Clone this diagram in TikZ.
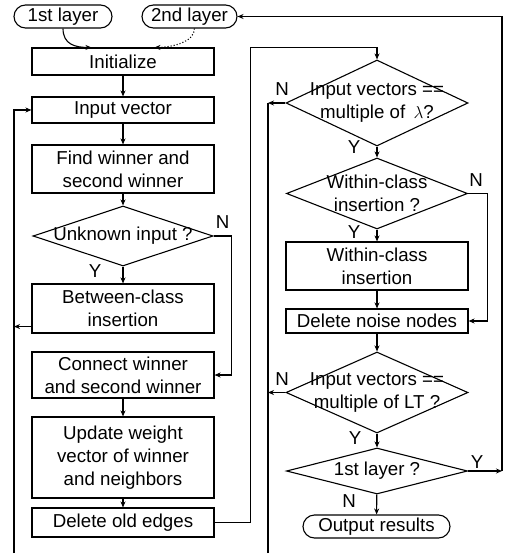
\documentclass[tikz,border=0pt]{standalone}
\usepackage{fontspec}
\setmainfont{Liberation Sans}
\usetikzlibrary{arrows.meta,shapes.geometric,calc}
\begin{document}
\begin{tikzpicture}[x=1bp,y=-1bp,
  every node/.style={font=\fontsize{18.7bp}{23bp}\selectfont},
  proc/.style={draw, line width=1.1bp, rectangle, minimum width=182bp, inner sep=0pt, align=center},
  term/.style={draw, line width=1.1bp, rounded corners=11.5bp, minimum height=23bp, inner sep=0pt},
  dia/.style={draw, line width=1.1bp, diamond, inner sep=0pt},
  dtext/.style={align=center, inner sep=0pt},
  lbl/.style={inner sep=0pt},
  arr/.style={line width=1.1bp, -{Stealth[length=6bp,width=5bp]}},
  ln/.style={line width=1.1bp}]
\useasboundingbox (0,0) rectangle (507,555);
% left column
\node[term, minimum width=98bp] (l1) at (63,16.5) {1st layer};
\node[term, minimum width=95bp] (l2) at (189.5,16.5) {2nd layer};
\node[proc, minimum height=27bp] (init) at (123,61.5) {Initialize};
\node[proc, minimum height=26bp] (inp) at (123,110) {Input vector};
\node[proc, minimum height=48bp] (find) at (123,169) {Find winner and\\second winner};
\node[dia, minimum width=180bp, minimum height=60bp] (unk) at (123,236) {};
\node[dtext] at (unk) {Unknown input ?};
\node[proc, minimum height=49bp] (bc) at (123,308.5) {Between-class\\insertion};
\node[proc, minimum height=46bp] (conn) at (123,375) {Connect winner\\and second winner};
\node[proc, minimum height=81bp] (upd) at (123,457.5) {Update weight\\vector of winner\\and neighbors};
\node[proc, minimum height=29bp] (del) at (123,522.5) {Delete old edges};
% right column
\node[dia, minimum width=182bp, minimum height=86bp] (d1) at (377,103) {};
\node[dtext] at (d1) {Input vectors ==\\multiple of \,$\lambda$?};
\node[dia, minimum width=181bp, minimum height=71bp] (d2) at (377,193.5) {};
\node[dtext] at (d2) {Within-class\\insertion ?};
\node[proc, minimum height=48bp] (wc) at (377,266) {Within-class\\insertion};
\node[proc, minimum height=24bp] (dn) at (377,321) {Delete noise nodes};
\node[dia, minimum width=182bp, minimum height=81bp] (d3) at (377,392.5) {};
\node[dtext] at (d3) {Input vectors ==\\multiple of LT ?};
\node[dia, minimum width=181bp, minimum height=46bp] (d4) at (377,471) {};
\node[dtext] at (d4) {1st layer ?};
\node[term, minimum width=147bp] (out) at (376.5,526.5) {Output results};
% labels
\node[lbl] at (222.5,222) {N};
\node[lbl] at (95,271) {Y};
\node[lbl] at (282,89) {N};
\node[lbl] at (354,147) {Y};
\node[lbl] at (476,180) {N};
\node[lbl] at (354,232) {Y};
\node[lbl] at (282,379) {N};
\node[lbl] at (355,438) {Y};
\node[lbl] at (477,462) {Y};
\node[lbl] at (349,501) {N};
% left connectors
\draw[arr] (init) -- (inp);
\draw[arr] (inp) -- (find);
\draw[arr] (find) -- (unk);
\draw[arr] (unk) -- (bc);
\draw[arr] (conn) -- (upd);
\draw[arr] (upd) -- (del);
\draw[arr] (unk.east) -- ++(18,0) |- (conn.east);
\coordinate (lb) at (14,553);
\draw[arr] (lb) |- (inp.west);
\coordinate (bcout) at ($(bc.south west)+(0,-7)$);
\draw[arr] (bcout) -- (bcout -| lb);
\draw[arr] (del.east) -- ++(36,0) |- ($(d1.north)+(0,-12)$) -- (d1.north);
% right connectors
\draw[arr] (d1) -- (d2);
\draw[arr] (d2) -- (wc);
\draw[arr] (wc) -- (dn);
\draw[arr] (dn) -- (d3);
\draw[arr] (d3) -- (d4);
\draw[arr] (d4) -- (out);
\draw[arr] (d2.east) -- ++(19,0) |- (dn.east);
\coordinate (rb) at (268,553);
\draw[ln] (rb) -- (rb |- d1.west);
\draw[arr] (d1.west) -- (d1.west -| rb);
\draw[arr] (d3.west) -- (d3.west -| rb);
\coordinate (c4) at (502,471);
\draw[arr] (d4.east) -- (c4);
\draw[arr] (c4) |- (l2.east);
% layer curves
\draw[arr] (l1.south) .. controls +(0,16) and +(-16,0) .. ($(init.north west)+(60,0)$);
\draw[arr, dotted] ($(l2.south)+(5,0)$) .. controls +(0,14) and +(16,0) .. ($(init.north west)+(123,0)$);
\end{tikzpicture}
\end{document}
